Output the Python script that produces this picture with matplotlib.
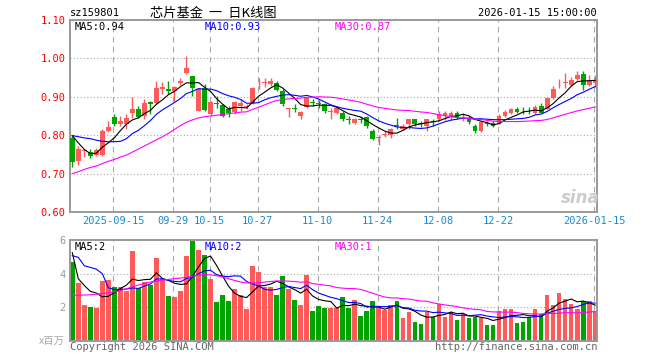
import numpy as np
import matplotlib
matplotlib.use('Agg')
import matplotlib.pyplot as plt

# daily candles, 2025-09-04 .. 2026-01-15 (88 trading days)
opens = [0.793, 0.734, 0.760, 0.755, 0.749, 0.749, 0.810, 0.847, 0.828, 0.830,
         0.857, 0.867, 0.850, 0.886, 0.885, 0.921, 0.921, 0.915, 0.935, 0.963,
         0.955, 0.864, 0.924, 0.854, 0.884, 0.878, 0.869, 0.860, 0.876, 0.874,
         0.885, 0.935, 0.936, 0.934, 0.937, 0.915, 0.868, 0.871, 0.850, 0.874,
         0.886, 0.885, 0.880, 0.861, 0.857, 0.858, 0.842, 0.832, 0.842, 0.847,
         0.810, 0.794, 0.800, 0.801, 0.826, 0.816, 0.830, 0.841, 0.831, 0.823,
         0.837, 0.841, 0.851, 0.850, 0.858, 0.853, 0.843, 0.825, 0.812, 0.830,
         0.832, 0.830, 0.851, 0.857, 0.869, 0.866, 0.863, 0.858, 0.876, 0.869,
         0.898, 0.935, 0.937, 0.932, 0.947, 0.960, 0.930, 0.935]
highs = [0.801, 0.771, 0.764, 0.764, 0.766, 0.815, 0.836, 0.854, 0.851, 0.854,
         0.900, 0.876, 0.893, 0.889, 0.941, 0.939, 0.941, 0.928, 0.950, 1.007,
         0.955, 0.924, 0.933, 0.889, 0.902, 0.880, 0.876, 0.889, 0.895, 0.880,
         0.926, 0.950, 0.950, 0.948, 0.941, 0.920, 0.871, 0.880, 0.863, 0.899,
         0.895, 0.891, 0.884, 0.871, 0.876, 0.863, 0.850, 0.845, 0.850, 0.851,
         0.815, 0.801, 0.810, 0.819, 0.845, 0.828, 0.841, 0.841, 0.836, 0.843,
         0.841, 0.863, 0.863, 0.863, 0.863, 0.858, 0.850, 0.830, 0.836, 0.836,
         0.836, 0.854, 0.865, 0.871, 0.874, 0.874, 0.874, 0.878, 0.883, 0.900,
         0.929, 0.947, 0.963, 0.952, 0.967, 0.967, 0.958, 0.956]
lows = [0.718, 0.723, 0.744, 0.740, 0.746, 0.746, 0.808, 0.823, 0.825, 0.816,
        0.845, 0.845, 0.841, 0.854, 0.880, 0.906, 0.906, 0.889, 0.930, 0.959,
        0.902, 0.862, 0.863, 0.851, 0.871, 0.847, 0.847, 0.854, 0.863, 0.867,
        0.882, 0.921, 0.926, 0.928, 0.915, 0.876, 0.848, 0.860, 0.841, 0.871,
        0.876, 0.871, 0.858, 0.843, 0.854, 0.836, 0.828, 0.829, 0.832, 0.819,
        0.787, 0.775, 0.795, 0.793, 0.815, 0.813, 0.815, 0.825, 0.822, 0.810,
        0.825, 0.836, 0.839, 0.839, 0.841, 0.836, 0.830, 0.806, 0.808, 0.825,
        0.822, 0.828, 0.848, 0.854, 0.857, 0.854, 0.854, 0.856, 0.857, 0.867,
        0.895, 0.923, 0.923, 0.928, 0.944, 0.919, 0.928, 0.926]
closes = [0.731, 0.764, 0.762, 0.746, 0.762, 0.810, 0.821, 0.828, 0.838, 0.845,
          0.867, 0.848, 0.883, 0.880, 0.924, 0.926, 0.915, 0.926, 0.941, 0.974,
          0.924, 0.921, 0.865, 0.886, 0.882, 0.850, 0.858, 0.886, 0.885, 0.876,
          0.924, 0.937, 0.938, 0.940, 0.918, 0.882, 0.870, 0.869, 0.860, 0.898,
          0.884, 0.882, 0.863, 0.863, 0.871, 0.841, 0.840, 0.843, 0.840, 0.825,
          0.790, 0.796, 0.802, 0.815, 0.824, 0.825, 0.841, 0.828, 0.829, 0.841,
          0.835, 0.854, 0.858, 0.857, 0.848, 0.855, 0.834, 0.812, 0.834, 0.829,
          0.825, 0.851, 0.860, 0.867, 0.860, 0.865, 0.862, 0.873, 0.858, 0.898,
          0.920, 0.937, 0.939, 0.944, 0.957, 0.930, 0.940, 0.943]
# volume, millions
volume = [4.71, 3.42, 2.11, 2.03, 1.99, 3.56, 3.60, 3.22, 3.20, 3.00,
          5.37, 3.16, 3.50, 3.30, 4.93, 3.66, 2.66, 2.60, 2.96, 5.07,
          5.92, 5.43, 5.13, 3.70, 2.29, 2.76, 2.39, 3.06, 2.76, 1.93,
          4.47, 4.10, 3.22, 3.20, 2.76, 3.84, 3.06, 2.41, 2.15, 3.92,
          1.79, 2.09, 1.99, 1.95, 1.95, 2.60, 1.99, 2.45, 1.51, 1.79,
          2.35, 1.95, 1.85, 2.15, 2.39, 1.39, 1.75, 1.15, 1.03, 1.75,
          1.45, 2.21, 1.45, 1.75, 1.25, 1.59, 1.39, 1.45, 1.35, 0.95,
          0.95, 1.79, 1.91, 1.91, 1.09, 1.15, 1.45, 1.91, 1.59, 2.76,
          2.11, 2.88, 2.52, 2.21, 1.91, 2.35, 2.39, 1.79]

# moving-average values before a full window exists
ma5_head = [0.799, 0.780, 0.763, 0.752]
ma10_head = [0.799, 0.796, 0.793, 0.791, 0.787, 0.784, 0.783, 0.783, 0.784]
ma30_head = [0.700, 0.705, 0.711, 0.716, 0.720, 0.726, 0.732, 0.737, 0.743, 0.748,
             0.756, 0.764, 0.772, 0.780, 0.788, 0.796, 0.805, 0.815, 0.825, 0.834,
             0.840, 0.845, 0.848, 0.850, 0.852, 0.854, 0.856, 0.858, 0.860]
vma5_head = [5.25, 3.70, 3.30, 2.95]
vma10_head = [5.07, 4.97, 4.47, 4.37, 4.27, 4.00, 3.16, 3.06, 3.06]
vma30_head = [2.72, 2.72, 2.73, 2.75, 2.78, 2.82, 2.86, 2.92, 3.00, 3.10,
              3.22, 3.32, 3.42, 3.50, 3.56, 3.62, 3.66, 3.70, 3.74, 3.78,
              3.85, 3.92, 3.95, 3.93, 3.88, 3.80, 3.70, 3.60, 3.50]

tick_idx = [7, 17, 23, 31, 41, 51, 61, 71, 87]
tick_lab = ['2025-09-15', '09-29', '10-15', '10-27', '11-10', '11-24', '12-08', '12-22', '2026-01-15']
price_ticks = [0.60, 0.70, 0.80, 0.90, 1.00, 1.10]
vol_ticks = [2, 4, 6]


def ma(vals, n, head):
    out = list(head)
    for i in range(len(head), len(vals)):
        out.append(np.mean(vals[i-n+1:i+1]))
    return out


RED = '#ff5a5a'
GREEN = '#00a300'
GRID = '#aaaaaa'
MONO = 'DejaVu Sans Mono'
CJK = ['Noto Sans CJK SC', 'DejaVu Sans']

W, H = 660., 360.
def box(l, t, r, b):
    return [l/W, 1-b/H, (r-l)/W, (b-t)/H]

fig = plt.figure(figsize=(6.6, 3.6), dpi=100)
fig.patch.set_facecolor('white')
ax1 = fig.add_axes(box(70, 20, 597, 212))
ax2 = fig.add_axes(box(70, 240, 597, 341))

x = np.arange(len(closes))
o = np.array(opens); c = np.array(closes)
hi = np.array(highs); lo = np.array(lows)
up = c >= o
cols = np.where(up, RED, GREEN)

for ax in (ax1, ax2):
    for s in ax.spines.values():
        s.set_color('#999999')
        s.set_linewidth(1.4)
    for t in tick_idx:
        ax.axvline(t-0.17, color=GRID, lw=0.8, ls=(0, (5, 4)), zorder=0)
    ax.set_xlim(-0.38, 87.3)
    ax.tick_params(length=0)

for p in [0.7, 0.8, 0.9, 1.0]:
    ax1.axhline(p, color=GRID, lw=0.8, ls=(0, (1, 2)), zorder=0)
for v in [2, 4]:
    ax2.axhline(v, color=GRID, lw=0.8, ls=(0, (1, 2)), zorder=0)

# candles
ax1.vlines(x, lo, hi, colors=cols, lw=1.0, zorder=2)
body = np.maximum(np.abs(c-o), 0.0015)
ax1.bar(x, body, bottom=np.minimum(o, c), width=0.8, color=cols, zorder=3)

ax1.plot(x, ma(closes, 5, ma5_head), color='black', lw=0.8, zorder=4)
ax1.plot(x, ma(closes, 10, ma10_head), color='#0000ff', lw=0.8, zorder=4)
ax1.plot(x, ma(closes, 30, ma30_head), color='#ff00ff', lw=0.8, zorder=4)

ax1.set_ylim(0.60, 1.10)
ax1.set_yticks(price_ticks)
ax1.set_yticklabels(['%.2f' % p for p in price_ticks], color='#ff0000', fontsize=7.5, family=MONO)
ax1.set_xticks([t-0.17 for t in tick_idx])
ax1.set_xticklabels(tick_lab, color='#1a8ad4', fontsize=7.5, family=MONO)
ax1.tick_params(pad=3)

# volume
ax2.bar(x, volume, width=0.78, color=cols, zorder=2)
ax2.plot(x, ma(volume, 5, vma5_head), color='black', lw=0.8, zorder=4)
ax2.plot(x, ma(volume, 10, vma10_head), color='#0000ff', lw=0.8, zorder=4)
ax2.plot(x, ma(volume, 30, vma30_head), color='#ff00ff', lw=0.8, zorder=4)
ax2.set_ylim(0, 6)
ax2.set_yticks(vol_ticks)
ax2.set_yticklabels([str(v) for v in vol_ticks], color='#999999', fontsize=7.5, family=MONO)
ax2.set_xticks([])
ax2.tick_params(pad=3)

def ftext(px, py, s, **kw):
    fig.text(px/W, 1-py/H, s, va='center', **kw)

ftext(70, 13, 'sz159801', fontsize=7.5, family=MONO, color='black')
ftext(150, 13, '芯片基金  一  日K线图', fontsize=9.5, family=CJK, color='black')
ftext(597, 13, '2026-01-15 15:00:00', fontsize=7.5, family=MONO, color='black', ha='right')

ftext(75, 27, 'MA5:0.94', fontsize=7.5, family=MONO, color='black')
ftext(205, 27, 'MA10:0.93', fontsize=7.5, family=MONO, color='#0000ff')
ftext(335, 27, 'MA30:0.87', fontsize=7.5, family=MONO, color='#ff00ff')
ftext(75, 247, 'MA5:2', fontsize=7.5, family=MONO, color='black')
ftext(205, 247, 'MA10:2', fontsize=7.5, family=MONO, color='#0000ff')
ftext(335, 247, 'MA30:1', fontsize=7.5, family=MONO, color='#ff00ff')

ftext(65, 341, 'x百万', fontsize=7.5, family=CJK, color='#aaaaaa', ha='right')
ftext(70, 347, 'Copyright 2026 SINA.COM', fontsize=7.5, family=MONO, color='#666666')
ftext(597, 347, 'http://finance.sina.com.cn', fontsize=7.5, family=MONO, color='#666666', ha='right')
ftext(580, 198, 'sina', fontsize=12, family='DejaVu Sans', style='italic',
      weight='bold', color='#cccccc', ha='center')

fig.savefig('out.png', dpi=100)
